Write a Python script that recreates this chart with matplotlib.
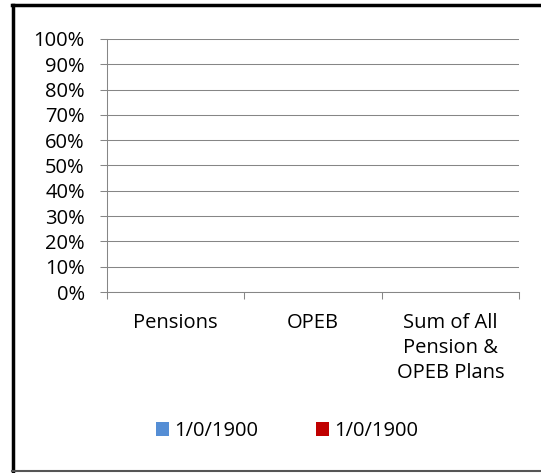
import matplotlib
matplotlib.use("Agg")
import matplotlib.pyplot as plt
from matplotlib.lines import Line2D
from matplotlib.patches import Patch
from matplotlib.ticker import FuncFormatter, MultipleLocator
import numpy as np

categories = ["Pensions", "OPEB", "Sum of All\nPension &\nOPEB Plans"]
series_names = ["1/0/1900", "1/0/1900"]
series_a = [0.0, 0.0, 0.0]
series_b = [0.0, 0.0, 0.0]
colors = ["#558ED5", "#C00000"]

plt.rcParams['font.family'] = ['Open Sans', 'DejaVu Sans']
FS = 14.5

W, H = 541, 473
fig = plt.figure(figsize=(W/100, H/100), dpi=100)
ax = fig.add_axes([107/W, 1-292/H, (519-107)/W, (292-39)/H])

x = np.arange(len(categories))
w = 0.3
ax.bar(x - w/2, series_a, w, color=colors[0], label=series_names[0])
ax.bar(x + w/2, series_b, w, color=colors[1], label=series_names[1])

ax.set_xlim(-0.5, len(categories) - 0.5)
ax.set_ylim(0, 1)
ax.yaxis.set_major_locator(MultipleLocator(0.1))
ax.yaxis.set_major_formatter(FuncFormatter(lambda v, p: f"{v*100:.0f}%"))
ax.set_xticks(x)
ax.set_xticklabels(categories, fontsize=FS, linespacing=1.35, va='top')
ax.set_xticks(np.arange(len(categories) + 1) - 0.5, minor=True)
ax.tick_params(axis='x', which='major', length=0, pad=15)
ax.tick_params(axis='x', which='minor', length=5, color="#868686", width=0.75, direction='out')
ax.tick_params(axis='y', length=5, color="#868686", width=0.75, labelsize=FS, pad=11)

ax.grid(axis='y', color="#868686", linewidth=0.75)
ax.set_axisbelow(True)
for s in ['top', 'right']:
    ax.spines[s].set_visible(False)
for s in ['left', 'bottom']:
    ax.spines[s].set_color("#868686")
    ax.spines[s].set_linewidth(0.75)

handles = [Patch(facecolor=colors[0]), Patch(facecolor=colors[1])]
fig.legend(handles, series_names, loc='center', bbox_to_anchor=(287/W, 1-431/H),
           ncol=2, frameon=False, fontsize=FS, handlelength=0.65, handleheight=0.65,
           handletextpad=0.25, columnspacing=2.9)

# frame
fig.add_artist(Line2D([12/W, 1], [1-5.5/H, 1-5.5/H], color='black', linewidth=2.5,
                      transform=fig.transFigure))
fig.add_artist(Line2D([13/W, 13/W], [0, 1-5/H], color='black', linewidth=2.5,
                      transform=fig.transFigure))
fig.add_artist(Line2D([12/W, 1], [1-471/H, 1-471/H], color='#555555', linewidth=1.5,
                      transform=fig.transFigure))

fig.savefig("out.png", dpi=100)
